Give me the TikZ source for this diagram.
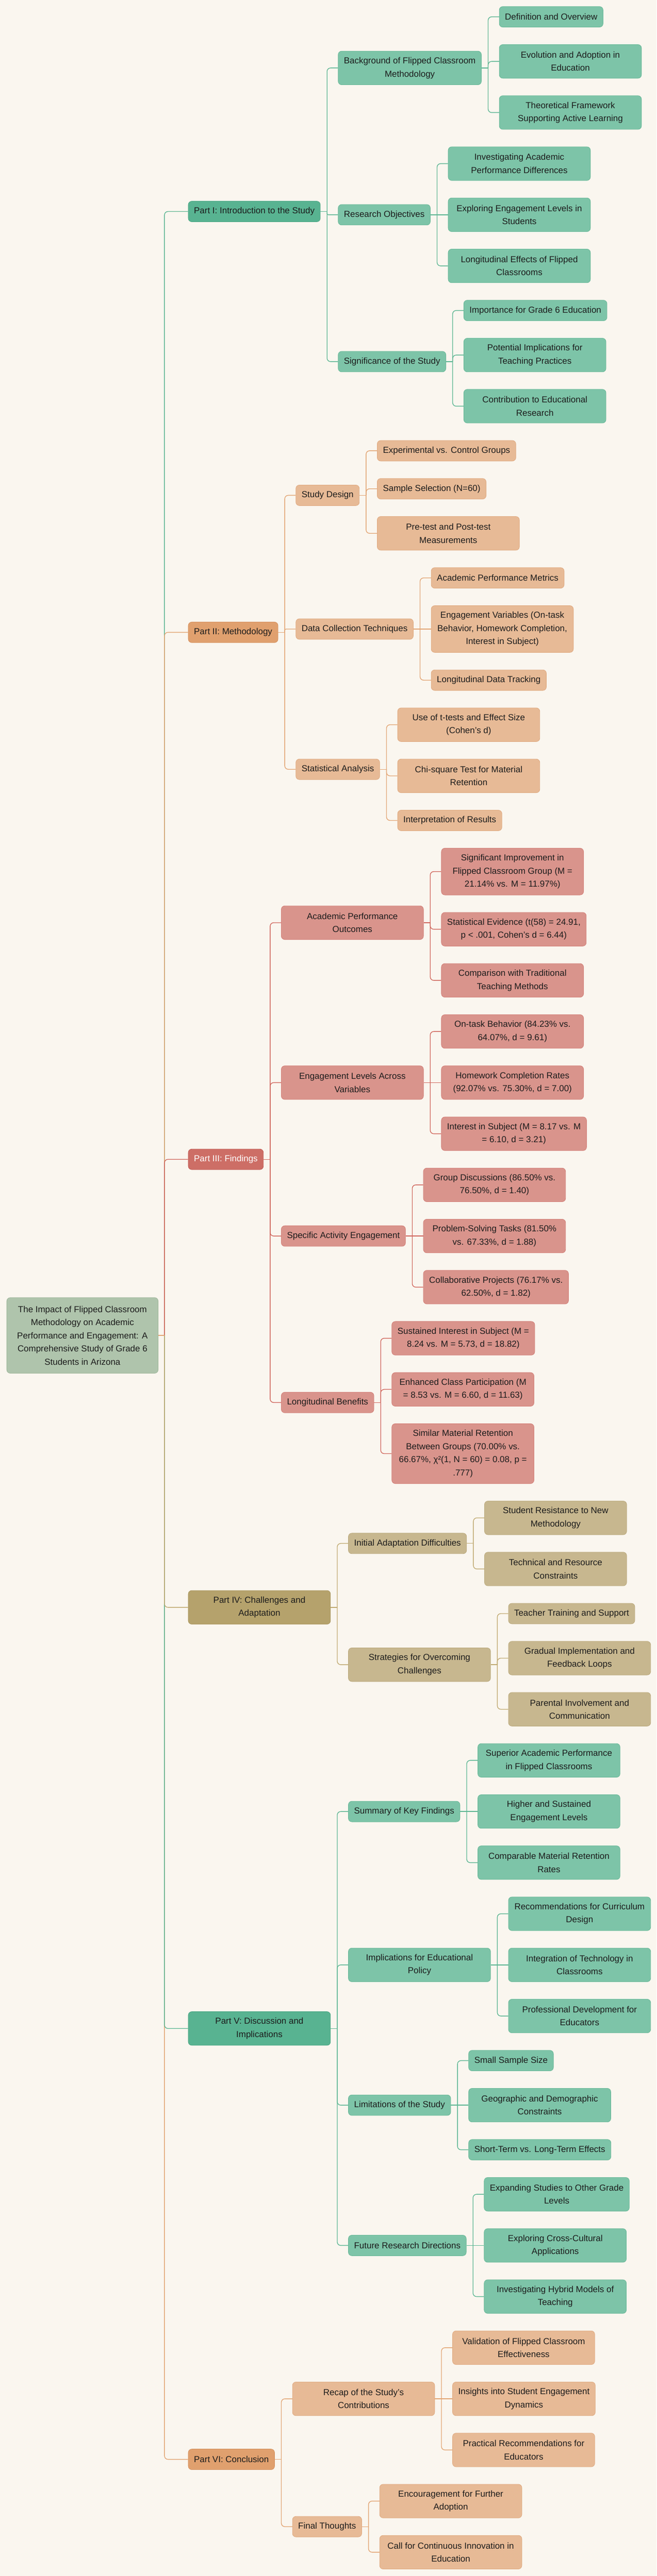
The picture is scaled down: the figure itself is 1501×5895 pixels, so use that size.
\documentclass[tikz,border=0pt]{standalone}
\usepackage{fontspec}
\setmainfont{Liberation Sans}
\definecolor{bgc}{HTML}{FAF6EF}
\definecolor{txt}{HTML}{1C1C1C}
\definecolor{gDf}{HTML}{58B391}\definecolor{gDb}{HTML}{4FA886}
\definecolor{gLf}{HTML}{7DC4A8}\definecolor{gLb}{HTML}{6BB999}
\definecolor{gLn}{HTML}{5DB693}
\definecolor{oDf}{HTML}{E0A06E}\definecolor{oDb}{HTML}{D69361}
\definecolor{oLf}{HTML}{E7BA96}\definecolor{oLb}{HTML}{E0AB82}
\definecolor{oLn}{HTML}{E2A574}
\definecolor{rDf}{HTML}{CD6E66}\definecolor{rDb}{HTML}{C4605A}
\definecolor{rLf}{HTML}{D9948C}\definecolor{rLb}{HTML}{D3817A}
\definecolor{rLn}{HTML}{D0675D}
\definecolor{kDf}{HTML}{B5A26C}\definecolor{kDb}{HTML}{AA9760}
\definecolor{kLf}{HTML}{C7B78F}\definecolor{kLb}{HTML}{BCAB7F}
\definecolor{kLn}{HTML}{C0AA72}
\definecolor{rootf}{HTML}{AFC4AC}\definecolor{rootb}{HTML}{9FB79C}
\newcommand\kid[3]{\draw[#1,rc] ([xshift=15pt]#2.east) |- (#3.west);}
\newcommand\kidS[3]{\draw[#1] ([xshift=15pt]#2.east) -- (#3.west);}
\newcommand\stubP[2]{\draw[#1] (#2.east) -- ++(15pt,0);}
\begin{document}
\begin{tikzpicture}[x=1pt,y=-1pt,
  bx/.style={rounded corners=8pt, line width=1pt, inner xsep=13pt, inner ysep=0pt,
    align=center, anchor=west, font=\fontsize{20}{30}\selectfont, text=txt},
  h1/.style={minimum height=47pt}, h2/.style={minimum height=77pt},
  h3/.style={minimum height=107pt}, h4/.style={minimum height=137pt},
  ww/.style={minimum width=325pt},
  gd/.style={bx, fill=gDf, draw=gDb}, gl/.style={bx, fill=gLf, draw=gLb},
  od/.style={bx, fill=oDf, draw=oDb}, ol/.style={bx, fill=oLf, draw=oLb},
  rd/.style={bx, fill=rDf, draw=rDb, text=white}, rl/.style={bx, fill=rLf, draw=rLb},
  kd/.style={bx, fill=kDf, draw=kDb}, kl/.style={bx, fill=kLf, draw=kLb},
  rootbox/.style={bx, fill=rootf, draw=rootb, minimum width=346pt, minimum height=173pt},
  ln/.style={line width=1.6pt},
  eg/.style={ln, draw=gLn}, eo/.style={ln, draw=oLn}, er/.style={ln, draw=rLn}, ek/.style={ln, draw=kLn},
  rc/.style={rounded corners=8pt}]
\fill[bgc] (0,0) rectangle (1501,5895);
\useasboundingbox (0,0) rectangle (1501,5895);

% ---------- root
\node[rootbox] (root) at (15,3056) {The Impact of Flipped Classroom\\Methodology on Academic\\Performance and Engagement: A\\Comprehensive Study of Grade 6\\Students in Arizona};
\coordinate (rj) at ([xshift=14pt]root.east);

% ---------- Part I
\node[gd,h1] (p1) at (430,484) {Part I: Introduction to the Study};
\node[gl,h2,ww,xshift=40pt] (a1) at (p1.east |- 0,155.5) {Background of Flipped Classroom\\Methodology};
\node[gl,h1,xshift=40pt] (a1a) at (a1.east |- 0,38.5) {Definition and Overview};
\node[gl,h2,ww,xshift=40pt] (a1b) at (a1.east |- 0,140.5) {Evolution and Adoption in\\Education};
\node[gl,h2,ww,xshift=40pt] (a1c) at (a1.east |- 0,257.5) {Theoretical Framework\\Supporting Active Learning};
\node[gl,h1,xshift=40pt] (a2) at (p1.east |- 0,491.5) {Research Objectives};
\node[gl,h2,ww,xshift=40pt] (a2a) at (a2.east |- 0,374.5) {Investigating Academic\\Performance Differences};
\node[gl,h2,ww,xshift=40pt] (a2b) at (a2.east |- 0,491.5) {Exploring Engagement Levels in\\Students};
\node[gl,h2,ww,xshift=40pt] (a2c) at (a2.east |- 0,608.5) {Longitudinal Effects of Flipped\\Classrooms};
\node[gl,h1,xshift=40pt] (a3) at (p1.east |- 0,827.5) {Significance of the Study};
\node[gl,h1,xshift=40pt] (a3a) at (a3.east |- 0,710.5) {Importance for Grade 6 Education};
\node[gl,h2,ww,xshift=40pt] (a3b) at (a3.east |- 0,812.5) {Potential Implications for\\Teaching Practices};
\node[gl,h2,ww,xshift=40pt] (a3c) at (a3.east |- 0,929.5) {Contribution to Educational\\Research};

% ---------- Part II
\node[od,h1] (p2) at (430,1447) {Part II: Methodology};
\node[ol,h1,xshift=40pt] (b1) at (p2.east |- 0,1133.5) {Study Design};
\node[ol,h1,xshift=40pt] (b1a) at (b1.east |- 0,1031.5) {Experimental vs. Control Groups};
\node[ol,h1,xshift=40pt] (b1b) at (b1.east |- 0,1118.5) {Sample Selection (N=60)};
\node[ol,h2,ww,xshift=40pt] (b1c) at (b1.east |- 0,1220.5) {Pre-test and Post-test\\Measurements};
\node[ol,h1,xshift=40pt] (b2) at (p2.east |- 0,1439.5) {Data Collection Techniques};
\node[ol,h1,xshift=40pt] (b2a) at (b2.east |- 0,1322.5) {Academic Performance Metrics};
\node[ol,h3,ww,xshift=40pt] (b2b) at (b2.east |- 0,1439.5) {Engagement Variables (On-task\\Behavior, Homework Completion,\\Interest in Subject)};
\node[ol,h1,xshift=40pt] (b2c) at (b2.east |- 0,1556.5) {Longitudinal Data Tracking};
\node[ol,h1,xshift=40pt] (b3) at (p2.east |- 0,1760.5) {Statistical Analysis};
\node[ol,h2,ww,xshift=40pt] (b3a) at (b3.east |- 0,1658.5) {Use of t-tests and Effect Size\\(Cohen’s d)};
\node[ol,h2,ww,xshift=40pt] (b3b) at (b3.east |- 0,1775.5) {Chi-square Test for Material\\Retention};
\node[ol,h1,xshift=40pt] (b3c) at (b3.east |- 0,1877.5) {Interpretation of Results};

% ---------- Part III
\node[rd,h1] (p3) at (430,2653) {Part III: Findings};
\node[rl,h2,ww,xshift=40pt] (c1) at (p3.east |- 0,2111.5) {Academic Performance\\Outcomes};
\node[rl,h3,ww,xshift=40pt] (c1a) at (c1.east |- 0,1994.5) {Significant Improvement in\\Flipped Classroom Group (M =\\21.14\% vs. M = 11.97\%)};
\node[rl,h2,ww,xshift=40pt] (c1b) at (c1.east |- 0,2126.5) {Statistical Evidence (t(58) = 24.91,\\p < .001, Cohen's d = 6.44)};
\node[rl,h2,ww,xshift=40pt] (c1c) at (c1.east |- 0,2243.5) {Comparison with Traditional\\Teaching Methods};
\node[rl,h2,ww,xshift=40pt] (c2) at (p3.east |- 0,2477.5) {Engagement Levels Across\\Variables};
\node[rl,h2,ww,xshift=40pt] (c2a) at (c2.east |- 0,2360.5) {On-task Behavior (84.23\% vs.\\64.07\%, d = 9.61)};
\node[rl,h2,ww,xshift=40pt] (c2b) at (c2.east |- 0,2477.5) {Homework Completion Rates\\(92.07\% vs. 75.30\%, d = 7.00)};
\node[rl,h2,ww,xshift=40pt] (c2c) at (c2.east |- 0,2594.5) {Interest in Subject (M = 8.17 vs. M\\{}= 6.10, d = 3.21)};
\node[rl,h1,xshift=40pt] (c3) at (p3.east |- 0,2828.5) {Specific Activity Engagement};
\node[rl,h2,ww,xshift=40pt] (c3a) at (c3.east |- 0,2711.5) {Group Discussions (86.50\% vs.\\76.50\%, d = 1.40)};
\node[rl,h2,ww,xshift=40pt] (c3b) at (c3.east |- 0,2828.5) {Problem-Solving Tasks (81.50\%\\vs. 67.33\%, d = 1.88)};
\node[rl,h2,ww,xshift=40pt] (c3c) at (c3.east |- 0,2945.5) {Collaborative Projects (76.17\% vs.\\62.50\%, d = 1.82)};
\node[rl,h1,xshift=40pt] (c4) at (p3.east |- 0,3209.5) {Longitudinal Benefits};
\node[rl,h2,ww,xshift=40pt] (c4a) at (c4.east |- 0,3062.5) {Sustained Interest in Subject (M =\\8.24 vs. M = 5.73, d = 18.82)};
\node[rl,h2,ww,xshift=40pt] (c4b) at (c4.east |- 0,3179.5) {Enhanced Class Participation (M\\{}= 8.53 vs. M = 6.60, d = 11.63)};
\node[rl,h4,ww,xshift=40pt] (c4c) at (c4.east |- 0,3326.5) {Similar Material Retention\\Between Groups (70.00\% vs.\\66.67\%, χ²(1, N = 60) = 0.08, p =\\.777)};

% ---------- Part IV
\node[kd,h2,ww] (p4) at (430,3678.25) {Part IV: Challenges and\\Adaptation};
\node[kl,h1,xshift=40pt] (d1) at (p4.east |- 0,3532) {Initial Adaptation Difficulties};
\node[kl,h2,ww,xshift=40pt] (d1a) at (d1.east |- 0,3473.5) {Student Resistance to New\\Methodology};
\node[kl,h2,ww,xshift=40pt] (d1b) at (d1.east |- 0,3590.5) {Technical and Resource\\Constraints};
\node[kl,h2,ww,xshift=40pt] (d2) at (p4.east |- 0,3809.5) {Strategies for Overcoming\\Challenges};
\node[kl,h1,xshift=40pt] (d2a) at (d2.east |- 0,3692.5) {Teacher Training and Support};
\node[kl,h2,ww,xshift=40pt] (d2b) at (d2.east |- 0,3794.5) {Gradual Implementation and\\Feedback Loops};
\node[kl,h2,ww,xshift=40pt] (d2c) at (d2.east |- 0,3911.5) {Parental Involvement and\\Communication};

% ---------- Part V
\node[gd,h2,ww] (p5) at (430,4642) {Part V: Discussion and\\Implications};
\node[gl,h1,xshift=40pt] (e1) at (p5.east |- 0,4145.5) {Summary of Key Findings};
\node[gl,h2,ww,xshift=40pt] (e1a) at (e1.east |- 0,4028.5) {Superior Academic Performance\\in Flipped Classrooms};
\node[gl,h2,ww,xshift=40pt] (e1b) at (e1.east |- 0,4145.5) {Higher and Sustained\\Engagement Levels};
\node[gl,h2,ww,xshift=40pt] (e1c) at (e1.east |- 0,4262.5) {Comparable Material Retention\\Rates};
\node[gl,h2,ww,xshift=40pt] (e2) at (p5.east |- 0,4496.5) {Implications for Educational\\Policy};
\node[gl,h2,ww,xshift=40pt] (e2a) at (e2.east |- 0,4379.5) {Recommendations for Curriculum\\Design};
\node[gl,h2,ww,xshift=40pt] (e2b) at (e2.east |- 0,4496.5) {Integration of Technology in\\Classrooms};
\node[gl,h2,ww,xshift=40pt] (e2c) at (e2.east |- 0,4613.5) {Professional Development for\\Educators};
\node[gl,h1,xshift=40pt] (e3) at (p5.east |- 0,4817.5) {Limitations of the Study};
\node[gl,h1,xshift=40pt] (e3a) at (e3.east |- 0,4715.5) {Small Sample Size};
\node[gl,h2,ww,xshift=40pt] (e3b) at (e3.east |- 0,4817.5) {Geographic and Demographic\\Constraints};
\node[gl,h1,xshift=40pt] (e3c) at (e3.east |- 0,4919.5) {Short-Term vs. Long-Term Effects};
\node[gl,h1,xshift=40pt] (e4) at (p5.east |- 0,5138.5) {Future Research Directions};
\node[gl,h2,ww,xshift=40pt] (e4a) at (e4.east |- 0,5021.5) {Expanding Studies to Other Grade\\Levels};
\node[gl,h2,ww,xshift=40pt] (e4b) at (e4.east |- 0,5138.5) {Exploring Cross-Cultural\\Applications};
\node[gl,h2,ww,xshift=40pt] (e4c) at (e4.east |- 0,5255.5) {Investigating Hybrid Models of\\Teaching};

% ---------- Part VI
\node[od,h1] (p6) at (430,5628) {Part VI: Conclusion};
\node[ol,h2,ww,xshift=40pt] (f1) at (p6.east |- 0,5489.5) {Recap of the Study’s\\Contributions};
\node[ol,h2,ww,xshift=40pt] (f1a) at (f1.east |- 0,5372.5) {Validation of Flipped Classroom\\Effectiveness};
\node[ol,h2,ww,xshift=40pt] (f1b) at (f1.east |- 0,5489.5) {Insights into Student Engagement\\Dynamics};
\node[ol,h2,ww,xshift=40pt] (f1c) at (f1.east |- 0,5606.5) {Practical Recommendations for\\Educators};
\node[ol,h1,xshift=40pt] (f2) at (p6.east |- 0,5782) {Final Thoughts};
\node[ol,h2,ww,xshift=40pt] (f2a) at (f2.east |- 0,5723.5) {Encouragement for Further\\Adoption};
\node[ol,h2,ww,xshift=40pt] (f2b) at (f2.east |- 0,5840.5) {Call for Continuous Innovation in\\Education};

% ---------- connectors: root to parts
\draw[eo,rc] (rj) |- (p6.west);
\draw[eg,rc] (rj) |- (p5.west);
\draw[ek,rc] (rj) |- (p4.west);
\draw[eg,rc] (rj) |- (p1.west);
\draw[eo,rc] (rj) |- (p2.west);
\draw[er,rc] (rj) |- (p3.west);
\draw[eo] (root.east) -- (rj);

% Part I
\stubP{eg}{p1}
\kid{eg}{p1}{a1}\draw[eg,rounded corners=3pt] ([xshift=15pt]p1.east) |- (a2.west);\kid{eg}{p1}{a3}
\stubP{eg}{a1}\kid{eg}{a1}{a1a}\kid{eg}{a1}{a1b}\kid{eg}{a1}{a1c}
\stubP{eg}{a2}\kid{eg}{a2}{a2a}\kidS{eg}{a2}{a2b}\kid{eg}{a2}{a2c}
\stubP{eg}{a3}\kid{eg}{a3}{a3a}\kid{eg}{a3}{a3b}\kid{eg}{a3}{a3c}
% Part II
\stubP{eo}{p2}
\kid{eo}{p2}{b1}\draw[eo,rounded corners=3pt] ([xshift=15pt]p2.east) |- (b2.west);\kid{eo}{p2}{b3}
\stubP{eo}{b1}\kid{eo}{b1}{b1a}\kid{eo}{b1}{b1b}\kid{eo}{b1}{b1c}
\stubP{eo}{b2}\kid{eo}{b2}{b2a}\kidS{eo}{b2}{b2b}\kid{eo}{b2}{b2c}
\stubP{eo}{b3}\kid{eo}{b3}{b3a}\kid{eo}{b3}{b3b}\kid{eo}{b3}{b3c}
% Part III
\stubP{er}{p3}
\kid{er}{p3}{c1}\kid{er}{p3}{c2}\kid{er}{p3}{c3}\kid{er}{p3}{c4}
\stubP{er}{c1}\kid{er}{c1}{c1a}\kid{er}{c1}{c1b}\kid{er}{c1}{c1c}
\stubP{er}{c2}\kid{er}{c2}{c2a}\kidS{er}{c2}{c2b}\kid{er}{c2}{c2c}
\stubP{er}{c3}\kid{er}{c3}{c3a}\kidS{er}{c3}{c3b}\kid{er}{c3}{c3c}
\stubP{er}{c4}\kid{er}{c4}{c4a}\kid{er}{c4}{c4b}\kid{er}{c4}{c4c}
% Part IV
\stubP{ek}{p4}
\kid{ek}{p4}{d1}\kid{ek}{p4}{d2}
\stubP{ek}{d1}\kid{ek}{d1}{d1a}\kid{ek}{d1}{d1b}
\stubP{ek}{d2}\kid{ek}{d2}{d2a}\kid{ek}{d2}{d2b}\kid{ek}{d2}{d2c}
% Part V
\stubP{eg}{p5}
\kid{eg}{p5}{e1}\kid{eg}{p5}{e2}\kid{eg}{p5}{e3}\kid{eg}{p5}{e4}
\stubP{eg}{e1}\kid{eg}{e1}{e1a}\kidS{eg}{e1}{e1b}\kid{eg}{e1}{e1c}
\stubP{eg}{e2}\kid{eg}{e2}{e2a}\kidS{eg}{e2}{e2b}\kid{eg}{e2}{e2c}
\stubP{eg}{e3}\kid{eg}{e3}{e3a}\kidS{eg}{e3}{e3b}\kid{eg}{e3}{e3c}
\stubP{eg}{e4}\kid{eg}{e4}{e4a}\kidS{eg}{e4}{e4b}\kid{eg}{e4}{e4c}
% Part VI
\stubP{eo}{p6}
\kid{eo}{p6}{f1}\kid{eo}{p6}{f2}
\stubP{eo}{f1}\kid{eo}{f1}{f1a}\kidS{eo}{f1}{f1b}\kid{eo}{f1}{f1c}
\stubP{eo}{f2}\kid{eo}{f2}{f2a}\kid{eo}{f2}{f2b}
\end{tikzpicture}
\end{document}
